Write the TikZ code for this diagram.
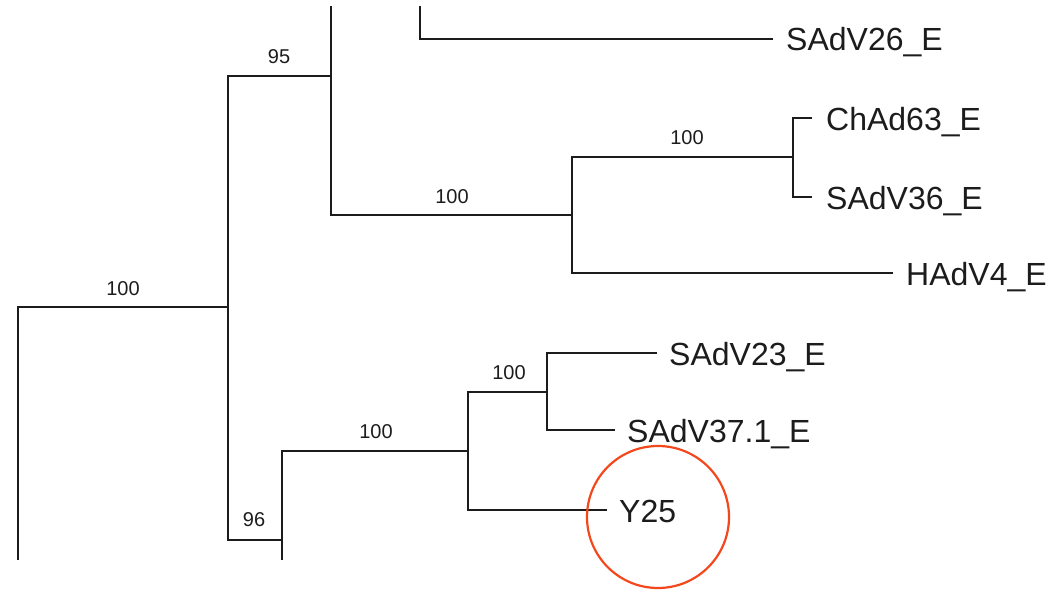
\documentclass[tikz,border=0pt]{standalone}
\usepackage{fontspec}
\setmainfont{Liberation Sans}
\definecolor{treeink}{RGB}{28,28,28}
\definecolor{ringred}{RGB}{244,72,28}
\begin{document}
\begin{tikzpicture}[x=1pt,y=-1pt,
  branch/.style={draw=treeink,line width=2.6pt,line join=miter},
  taxon/.style={anchor=base west,inner sep=0pt,text=treeink,font=\fontsize{32}{38}\selectfont},
  boot/.style={anchor=center,inner sep=0pt,text=treeink,font=\fontsize{20}{24}\selectfont},
  ring/.style={draw=ringred,line width=2.2pt}]
\useasboundingbox (0,0) rectangle (1056,591);
% internal nodes
\coordinate (rootbot) at (18,560);
\coordinate (A) at (228,307);
\coordinate (B) at (331,76);
\coordinate (Btop) at (331,6);
\coordinate (Ctop) at (420,6);
\coordinate (D) at (572,215);
\coordinate (E) at (793,157);
\coordinate (F) at (282,540);
\coordinate (Fbot) at (282,560);
\coordinate (G) at (468,451);
\coordinate (H) at (547,392);
% tip ends
\coordinate (t26) at (773,39);
\coordinate (t63) at (812,118);
\coordinate (t36) at (812,197);
\coordinate (t4) at (893,273);
\coordinate (t23) at (657,353);
\coordinate (t37) at (615,430);
\coordinate (tY) at (607,510);
% branches
\draw[branch] (rootbot) |- (A);
\draw[branch] (A) |- (B);
\draw[branch] (A) |- (F);
\draw[branch] (Btop) -- (B);
\draw[branch] (B) |- (D);
\draw[branch] (Ctop) |- (t26);
\draw[branch] (D) |- (E);
\draw[branch] (D) |- (t4);
\draw[branch] (E) |- (t63);
\draw[branch] (E) |- (t36);
\draw[branch] (Fbot) -- (F);
\draw[branch] (F) |- (G);
\draw[branch] (G) |- (H);
\draw[branch] (G) |- (tY);
\draw[branch] (H) |- (t23);
\draw[branch] (H) |- (t37);
% taxa
\node[taxon] (l26) at (786,51) {SAdV26\_E};
\node[taxon] (l63) at (826,130) {ChAd63\_E};
\node[taxon] (l36) at (826,209) {SAdV36\_E};
\node[taxon] (l4) at (906,285) {HAdV4\_E};
\node[taxon] (l23) at (669,365) {SAdV23\_E};
\node[taxon] (l37) at (627,442) {SAdV37.1\_E};
\node[taxon] (lY) at (619,522) {Y25};
% bootstrap values
\node[boot] (b1) at (123,289) {100};
\node[boot] (b2) at (279,57) {95};
\node[boot] (b3) at (452,197) {100};
\node[boot] (b4) at (687,138) {100};
\node[boot] (b5) at (254,520) {96};
\node[boot] (b6) at (376,432) {100};
\node[boot] (b7) at (509,373) {100};
% highlight ring
\node[ring,circle,minimum size=142pt,inner sep=0pt] (ringY) at (658,517) {};
\end{tikzpicture}
\end{document}
